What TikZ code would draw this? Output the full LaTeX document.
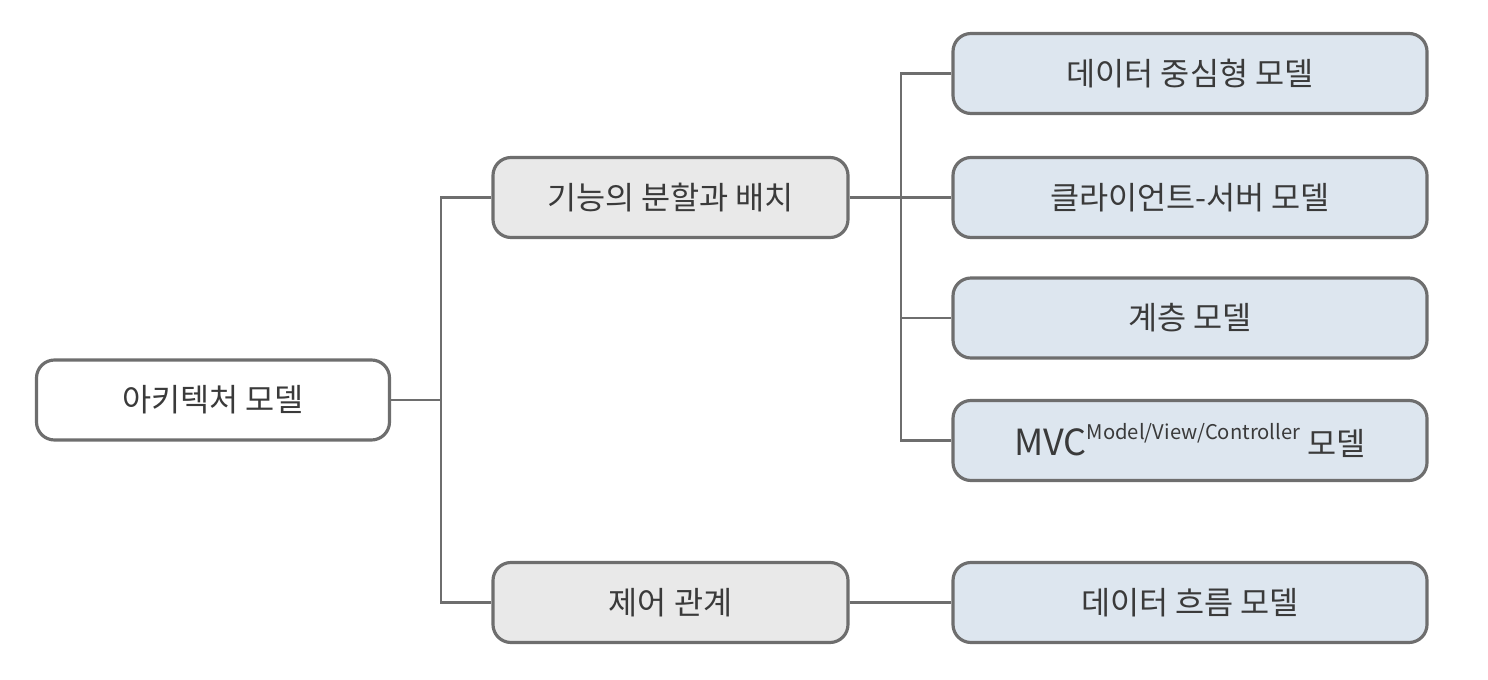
\documentclass[tikz,border=0pt]{standalone}
\usepackage{fontspec}
\newfontfamily\kr{Noto Sans CJK KR}
\definecolor{boxline}{HTML}{6E6E6E}
\definecolor{boxgray}{HTML}{E9E9E9}
\definecolor{boxblue}{HTML}{DDE6EF}
\definecolor{txtgray}{HTML}{3A3A3A}

\begin{document}
\begin{tikzpicture}[draw=boxline, line width=1.2pt]
    \useasboundingbox (0,0) rectangle (29.76,13.6);
    \tikzstyle{model}=[rectangle,rounded corners=0.36cm,draw=boxline,line width=1.8pt,
        minimum height=1.6cm,inner sep=0pt,font=\kr\fontsize{18}{20}\selectfont,text=txtgray]
    \tikzstyle{root model}=[model, fill=white, minimum width=7.06cm]
    \tikzstyle{group model}=[model, fill=boxgray, minimum width=7.1cm]
    \tikzstyle{leaf model}=[model, fill=boxblue, minimum width=9.48cm]

    \node[root model] (R-1) at (4.26,5.6) {아키텍처 모델};
    \node[group model] (G-1) at (13.41,9.65) {기능의 분할과 배치};
    \node[group model] (G-2) at (13.41,1.55) {제어 관계};
    \node[leaf model] (L-1) at (23.8,12.13) {데이터 중심형 모델};
    \node[leaf model] (L-2) at (23.8,9.65) {클라이언트-서버 모델};
    \node[leaf model] (L-3) at (23.8,7.24) {계층 모델};
    \node[leaf model] (L-4) at (23.8,4.79) {{\fontsize{20.5}{22}\selectfont MVC}\raisebox{0.5em}{\fontsize{11.5}{12}\selectfont Model/View/Controller} 모델};
    \node[leaf model] (L-5) at (23.8,1.55) {데이터 흐름 모델};

    \coordinate (J-1) at (8.82,5.6);
    \coordinate (J-2) at (18.02,9.65);
    \draw (R-1.east) -- (J-1);
    \draw (G-1.west) -| (J-1) |- (G-2.west);
    \draw (G-1.east) -- (L-2.west);
    \draw (L-1.west) -| (J-2) |- (L-4.west);
    \draw (L-3.west) -| (J-2);
    \draw (G-2.east) -- (L-5.west);
\end{tikzpicture}
\end{document}
